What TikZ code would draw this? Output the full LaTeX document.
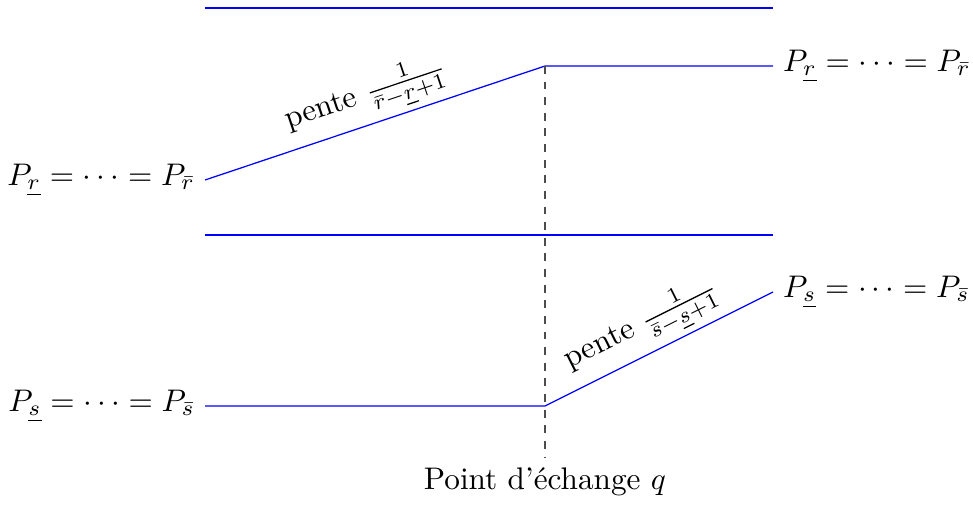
\documentclass[tikz,border=0pt]{standalone}
\begin{document}
\begin{tikzpicture}[x=0.32pt,y=-0.32pt,
  bline/.style={blue,line width=0.4pt},
  dline/.style={black!70,dash pattern=on 2.5pt off 2.5pt,line width=0.4pt},
  lbl/.style={inner sep=3pt,text=black},
  slope/.style={sloped,above,inner sep=1.5pt,text=black}]
\useasboundingbox (0,0) rectangle (973,504);
% coordinates
\coordinate (t1) at (205,8);
\coordinate (t2) at (773,8);
\coordinate (a1) at (205,180);
\coordinate (a2) at (545,66);
\coordinate (a3) at (773,66);
\coordinate (m1) at (205,235);
\coordinate (m2) at (773,235);
\coordinate (b1) at (205,406);
\coordinate (b2) at (545,406);
\coordinate (b3) at (773,292);
\coordinate (qb) at (545,458);
% lines
\draw[bline] (t1) -- (t2);
\draw[bline] (a1) -- node[slope,pos=0.5]{pente $\frac{1}{\bar{r}-\underline{r}+1}$} (a2) -- (a3);
\draw[bline] (m1) -- (m2);
\draw[bline] (b1) -- (b2) -- node[slope,pos=0.48]{pente $\frac{1}{\bar{s}-\underline{s}+1}$} (b3);
\draw[dline] (a2) -- (qb);
% labels
\node[lbl,anchor=east] (la) at (a1) {$P_{\underline{r}}=\cdots=P_{\bar{r}}$};
\node[lbl,anchor=west] (ra) at (a3) {$P_{\underline{r}}=\cdots=P_{\bar{r}}$};
\node[lbl,anchor=east] (lb) at (b1) {$P_{\underline{s}}=\cdots=P_{\bar{s}}$};
\node[lbl,anchor=west] (rb) at (b3) {$P_{\underline{s}}=\cdots=P_{\bar{s}}$};
\node[lbl,anchor=north] (q) at (qb) {Point d'échange $q$};
\end{tikzpicture}
\end{document}
